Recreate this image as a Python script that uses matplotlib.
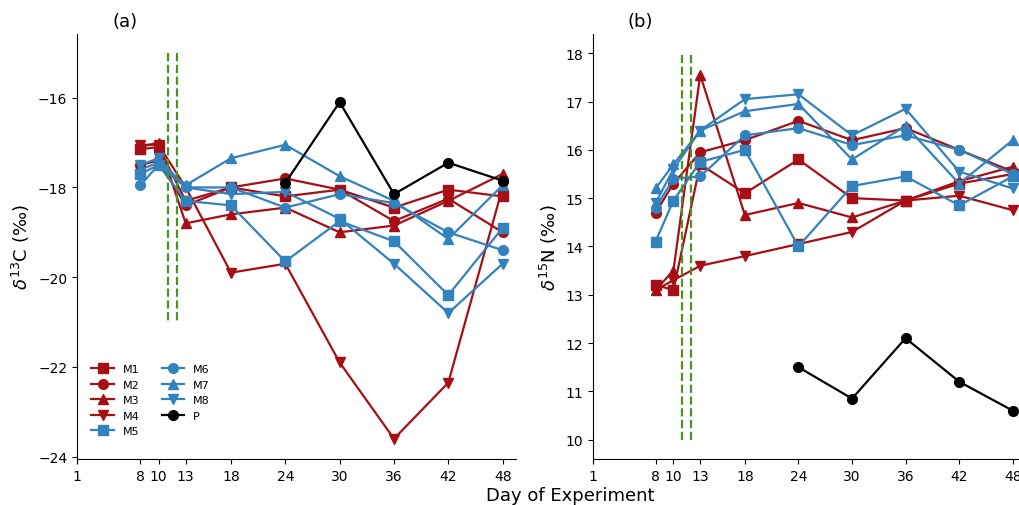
import matplotlib
matplotlib.use("Agg")
import matplotlib.pyplot as plt

days = [8, 10, 13, 18, 24, 30, 36, 42, 48]
p_days = [24, 30, 36, 42, 48]
xticks = [1, 8, 10, 13, 18, 24, 30, 36, 42, 48]

c13 = {
 "M1": [-17.15, -17.1, -18.3, -18.0, -18.2, -18.05, -18.45, -18.05, -18.2],
 "M2": [-17.5, -17.4, -18.4, -18.0, -17.8, -18.05, -18.75, -18.25, -19.0],
 "M3": [-17.1, -17.0, -18.8, -18.6, -18.45, -19.0, -18.85, -18.3, -17.7],
 "M4": [-17.05, -17.05, -18.0, -19.9, -19.7, -21.9, -23.6, -22.35, -18.0],
 "M5": [-17.7, -17.5, -18.3, -18.4, -19.65, -18.75, -19.2, -20.4, -18.9],
 "M6": [-17.95, -17.5, -18.0, -18.0, -18.45, -18.15, -18.35, -19.0, -19.4],
 "M7": [-17.6, -17.45, -17.95, -17.35, -17.05, -17.75, -18.3, -19.15, -17.95],
 "M8": [-17.5, -17.35, -18.0, -18.15, -18.1, -18.7, -19.7, -20.8, -19.7],
}
p13 = [-17.9, -16.1, -18.15, -17.45, -17.85]

n15 = {
 "M1": [13.2, 13.1, 15.7, 15.1, 15.8, 15.0, 14.95, 15.3, 15.5],
 "M2": [14.7, 15.3, 15.95, 16.2, 16.6, 16.2, 16.45, 16.0, 15.55],
 "M3": [13.1, 13.5, 17.55, 14.65, 14.9, 14.6, 14.95, 15.35, 15.65],
 "M4": [13.1, 13.3, 13.6, 13.8, 14.05, 14.3, 14.95, 15.05, 14.75],
 "M5": [14.1, 14.95, 15.75, 16.0, 14.0, 15.25, 15.45, 14.85, 15.45],
 "M6": [14.8, 15.4, 15.45, 16.3, 16.45, 16.1, 16.3, 16.0, 15.5],
 "M7": [15.2, 15.7, 16.4, 16.8, 16.95, 15.8, 16.5, 15.3, 16.2],
 "M8": [14.9, 15.6, 16.4, 17.05, 17.15, 16.3, 16.85, 15.55, 15.2],
}
p15 = [11.5, 10.85, 12.1, 11.2, 10.6]

red, blue = "#a50f15", "#3182bd"
style = {"M1": (red, "s"), "M2": (red, "o"), "M3": (red, "^"), "M4": (red, "v"),
         "M5": (blue, "s"), "M6": (blue, "o"), "M7": (blue, "^"), "M8": (blue, "v")}

fig = plt.figure(figsize=(10.19, 5.06), dpi=100)
ax1 = fig.add_axes([0.0756, 0.091, 0.431, 0.84])
ax2 = fig.add_axes([0.582, 0.091, 0.418, 0.84])

for ax, data, p, vl in [(ax1, c13, p13, (-15, -21)), (ax2, n15, p15, (10, 18))]:
    for k in ["M1", "M2", "M3", "M4", "M5", "M6", "M7", "M8"]:
        c, m = style[k]
        ax.plot(days, data[k], color=c, marker=m, ms=7, lw=1.6, label=k)
    ax.plot(p_days, p, color="black", marker="o", ms=7, lw=1.6, label="P")
    for x in (11, 12):
        ax.plot([x, x], vl, color="#4d9221", ls="--", lw=1.6)
    ax.set_xticks(xticks)
    ax.spines["top"].set_visible(False)
    ax.spines["right"].set_visible(False)

ax1.set_xlim(1, 49.5)
ax2.set_xlim(1, 48.7)
ax1.set_ylim(-24.05, -14.58)
ax1.set_yticks([-24, -22, -20, -18, -16])
ax1.set_yticklabels(["\u221224", "\u221222", "\u221220", "\u221218", "\u221216"])
ax2.set_ylim(9.6, 18.4)
ax2.set_yticks(range(10, 19))
ax1.set_ylabel(r"$\delta^{13}$C (‰)", fontsize=13)
ax2.set_ylabel(r"$\delta^{15}$N (‰)", fontsize=13)
ax1.set_title("(a)", loc="left", x=0.08, fontsize=13)
ax2.set_title("(b)", loc="left", x=0.08, fontsize=13)
ax1.legend(ncol=2, loc="lower left", frameon=False, fontsize=8, bbox_to_anchor=(0.01, 0.03))
fig.text(0.56, 0.01, "Day of Experiment", ha="center", fontsize=13)
fig.savefig("out.png", dpi=100)
